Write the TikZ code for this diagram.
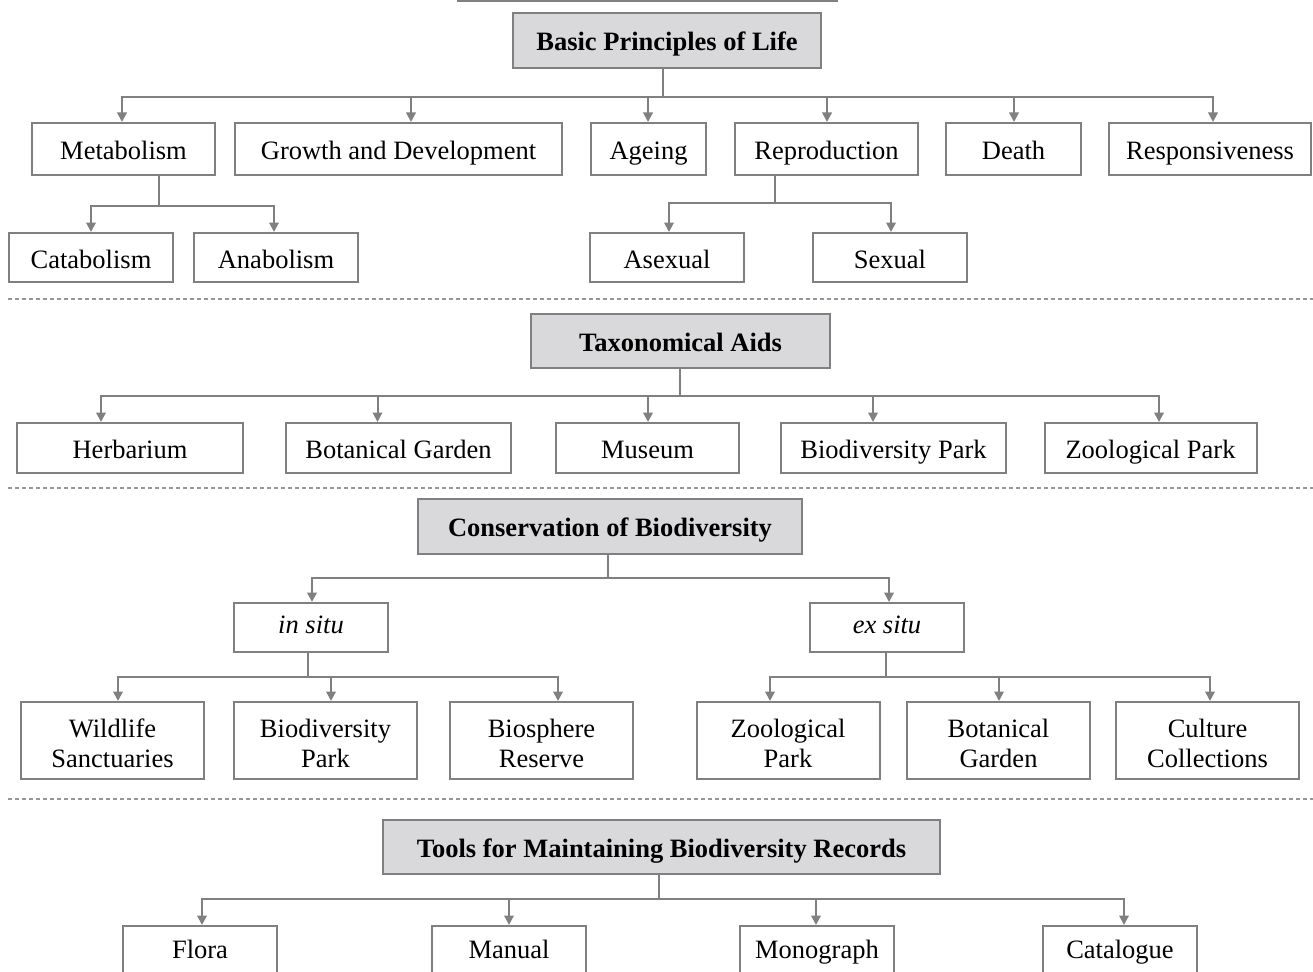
\documentclass[tikz,border=0pt]{standalone}
\usepackage{fontspec}
\setmainfont{Liberation Serif}
\usetikzlibrary{arrows.meta}
\definecolor{bordergray}{RGB}{128,128,130}
\definecolor{headfill}{RGB}{217,217,219}
\definecolor{dashgray}{RGB}{150,150,150}
\begin{document}
\begin{tikzpicture}[x=1pt,y=-1pt,
  every node/.style={inner sep=0pt, font=\fontsize{26.5}{29.5}\selectfont},
  box/.style={draw=bordergray, line width=2pt, fill=white, text height=21pt, text depth=0pt},
  headbox/.style={box, fill=headfill, font=\fontsize{26.5}{29.5}\selectfont\bfseries, text height=20pt},
  twoline/.style={box, align=center, text height=53pt, text depth=0pt},
  midbox/.style={box, text height=11pt, text depth=0pt},
  lowbox/.style={box, text height=12pt, text depth=0pt},
  conn/.style={draw=bordergray, line width=2pt},
  arr/.style={conn, -{Triangle[width=9.5pt,length=9.5pt]}},
  sep/.style={draw=dashgray, line width=1.2pt, dash pattern=on 4pt off 3pt}]
\useasboundingbox (0,0) rectangle (1313,971);

% partial box edge at top
\draw[conn] (457,1) -- (838,1);

% ---------- Section 1 ----------
\node[headbox, minimum width=308, minimum height=55] (bpl) at (667,40.5) {Basic Principles of Life};
\node[box, minimum width=183, minimum height=52] (met) at (123.5,149) {Metabolism};
\node[box, minimum width=327, minimum height=52] (grow) at (398.5,149) {Growth and Development};
\node[box, minimum width=115, minimum height=52] (age) at (648.5,149) {Ageing};
\node[box, minimum width=183, minimum height=52] (rep) at (826.5,149) {Reproduction};
\node[box, minimum width=135, minimum height=52] (death) at (1013.5,149) {Death};
\node[box, minimum width=202, minimum height=52] (resp) at (1210,149) {Responsiveness};
\node[box, minimum width=164, minimum height=49] (cata) at (91,257.5) {Catabolism};
\node[box, minimum width=164, minimum height=49] (ana) at (276,257.5) {Anabolism};
\node[box, minimum width=154, minimum height=49] (asex) at (667,257.5) {Asexual};
\node[box, minimum width=154, minimum height=49] (sex) at (890,257.5) {Sexual};

\coordinate (s0) at (663,97);
\foreach \n/\x in {met/122, grow/411, age/648, rep/827, death/1014, resp/1213}{
  \coordinate (tx) at (\x,0);
  \draw[arr] (bpl.south -| s0) -- (s0) -| (\n.north -| tx);
}
\coordinate (s1) at (159,206);
\foreach \n/\x in {cata/91, ana/274}{
  \coordinate (tx) at (\x,0);
  \draw[arr] (met.south -| s1) -- (s1) -| (\n.north -| tx);
}
\coordinate (s2) at (775,203);
\foreach \n/\x in {asex/669, sex/891}{
  \coordinate (tx) at (\x,0);
  \draw[arr] (rep.south -| s2) -- (s2) -| (\n.north -| tx);
}

\draw[sep] (8,299) -- (1313,299);

% ---------- Section 2 ----------
\node[headbox, minimum width=299, minimum height=54] (tax) at (680.5,341) {Taxonomical Aids};
\node[box, minimum width=226, minimum height=50] (herb) at (130,448) {Herbarium};
\node[box, minimum width=225, minimum height=50] (bot) at (398.5,448) {Botanical Garden};
\node[box, minimum width=183, minimum height=50] (mus) at (647.5,448) {Museum};
\node[box, minimum width=225, minimum height=50] (biop) at (893.5,448) {Biodiversity Park};
\node[box, minimum width=212, minimum height=50] (zoop) at (1150.5,448) {Zoological Park};

\coordinate (s3) at (680,396);
\foreach \n/\x in {herb/101, bot/377.5, mus/648, biop/873, zoop/1159}{
  \coordinate (tx) at (\x,0);
  \draw[arr] (tax.south -| s3) -- (s3) -| (\n.north -| tx);
}

\draw[sep] (8,488) -- (1313,488);

% ---------- Section 3 ----------
\node[headbox, minimum width=384, minimum height=55] (cons) at (610,526.5) {Conservation of Biodiversity};
\node[midbox, minimum width=154, minimum height=49] (insitu) at (311,627.5) {\itshape in situ};
\node[midbox, minimum width=154, minimum height=49] (exsitu) at (887,627.5) {\itshape ex situ};

\coordinate (s4) at (608,578);
\foreach \n/\x in {insitu/312, exsitu/889}{
  \coordinate (tx) at (\x,0);
  \draw[arr] (cons.south -| s4) -- (s4) -| (\n.north -| tx);
}

\node[twoline, minimum width=183, minimum height=77] (wild) at (112.5,740.5) {Wildlife\\Sanctuaries};
\node[twoline, minimum width=183, minimum height=77] (biop2) at (325.5,740.5) {Biodiversity\\Park};
\node[twoline, minimum width=183, minimum height=77] (bios) at (541.5,740.5) {Biosphere\\Reserve};
\node[twoline, minimum width=183, minimum height=77] (zoo2) at (788,740.5) {Zoological\\Park};
\node[twoline, minimum width=183, minimum height=77] (bot2) at (998.5,740.5) {Botanical\\Garden};
\node[twoline, minimum width=183, minimum height=77] (cult) at (1207.5,740.5) {Culture\\Collections};

\coordinate (s5) at (308,677);
\foreach \n/\x in {wild/118, biop2/331, bios/558}{
  \coordinate (tx) at (\x,0);
  \draw[arr] (insitu.south -| s5) -- (s5) -| (\n.north -| tx);
}
\coordinate (s6) at (885.5,677);
\foreach \n/\x in {zoo2/770, bot2/999, cult/1210}{
  \coordinate (tx) at (\x,0);
  \draw[arr] (exsitu.south -| s6) -- (s6) -| (\n.north -| tx);
}

\draw[sep] (8,799) -- (1313,799);

% ---------- Section 4 ----------
\node[headbox, minimum width=557, minimum height=54] (tools) at (661.5,847) {Tools for Maintaining Biodiversity Records};
\node[lowbox, minimum width=154, minimum height=52] (flora) at (200,952) {Flora};
\node[lowbox, minimum width=154, minimum height=52] (man) at (509,952) {Manual};
\node[lowbox, minimum width=154, minimum height=52] (mono) at (817,952) {Monograph};
\node[lowbox, minimum width=154, minimum height=52] (catl) at (1120,952) {Catalogue};

\coordinate (s7) at (659,899);
\foreach \n/\x in {flora/202, man/509, mono/816, catl/1124}{
  \coordinate (tx) at (\x,0);
  \draw[arr] (tools.south -| s7) -- (s7) -| (\n.north -| tx);
}
\end{tikzpicture}
\end{document}
